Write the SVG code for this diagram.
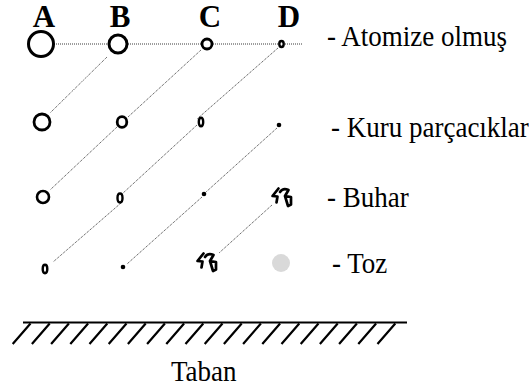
<svg xmlns="http://www.w3.org/2000/svg" width="529" height="390" viewBox="0 0 529 390">
  <defs>
    <style>
      .bg { fill: #ffffff; }
      .ring { fill: none; stroke: #000000; }
      .dot { fill: #000000; }
      .dust { fill: #d9d9d9; }
      .vapor { fill: none; stroke: #000000; stroke-width: 2.7; stroke-linecap: round; stroke-linejoin: round; }
      .path { stroke: #3a3a3a; stroke-width: 1; stroke-dasharray: 1 1; fill: none; }
      .ground { stroke: #000000; stroke-width: 2.2; fill: none; }
    </style>
    <!-- vapor glyph: irregular scribble, centred on its own origin -->
    <g id="vaporShape">
      <path class="vapor" d="M -3.5,-9.5 L -9.5,-2 L -4.5,-1.5 L -5.5,4.5"/>
      <path class="vapor" d="M -2,-6 Q 1,-10.5 6.5,-8 L 3,-2 L 9,-1 L 9,6.5 L 6,8 L 3,-2"/>
    </g>
  </defs>

  <rect class="bg" x="0" y="0" width="529" height="390"/>

  <!-- column headings -->
  <g id="headings" font-family="'Liberation Serif', 'Times New Roman', serif" font-weight="bold" font-size="31" text-anchor="middle" fill="#000000">
    <text x="44" y="27">A</text>
    <text x="120" y="27">B</text>
    <text x="210" y="27">C</text>
    <text x="289" y="27">D</text>
  </g>

  <!-- dotted trajectories -->
  <g id="connectors">
    <line class="path" x1="54" y1="44" x2="108" y2="44"/>
    <line class="path" x1="128" y1="44" x2="201" y2="44"/>
    <line class="path" x1="213" y1="44" x2="278" y2="44"/>
    <line class="path" x1="285" y1="44" x2="303" y2="44"/>

    <line class="path" x1="107" y1="57" x2="50" y2="113"/>
    <line class="path" x1="201" y1="50" x2="128" y2="117"/>
    <line class="path" x1="278" y1="48" x2="197" y2="119"/>

    <line class="path" x1="117" y1="127" x2="50" y2="190"/>
    <line class="path" x1="197" y1="125" x2="122" y2="194"/>
    <line class="path" x1="277" y1="128" x2="206" y2="192"/>

    <line class="path" x1="121" y1="203" x2="53" y2="262"/>
    <line class="path" x1="202" y1="197" x2="127" y2="264"/>
    <line class="path" x1="272" y1="205" x2="219" y2="253"/>
  </g>

  <!-- row 1: atomized droplets -->
  <g id="A1"><circle class="ring" cx="41" cy="44" r="12.5" stroke-width="3"/></g>
  <g id="B1"><circle class="ring" cx="118" cy="44" r="9" stroke-width="3"/></g>
  <g id="C1"><circle class="ring" cx="207" cy="44" r="5" stroke-width="2.8"/></g>
  <g id="D1"><ellipse class="ring" cx="281.5" cy="44" rx="2.2" ry="3" stroke-width="2.4"/></g>

  <!-- row 2 -->
  <g id="A2"><circle class="ring" cx="42" cy="122" r="8" stroke-width="2.8"/></g>
  <g id="B2"><ellipse class="ring" cx="122" cy="122" rx="4.8" ry="5.3" stroke-width="2.8"/></g>
  <g id="C2"><ellipse class="ring" cx="201" cy="122" rx="2.2" ry="4.3" stroke-width="2.4"/></g>
  <g id="D2"><circle class="dot" cx="279" cy="125" r="2.3"/></g>

  <!-- row 3 -->
  <g id="A3"><circle class="ring" cx="43" cy="197" r="6" stroke-width="2.6"/></g>
  <g id="B3"><ellipse class="ring" cx="120" cy="198" rx="2.5" ry="4.5" stroke-width="2.4"/></g>
  <g id="C3"><circle class="dot" cx="204" cy="194" r="2.3"/></g>
  <g id="D3"><use href="#vaporShape" transform="translate(282,198)"/></g>

  <!-- row 4 -->
  <g id="A4"><ellipse class="ring" cx="45" cy="269" rx="2.3" ry="4.2" stroke-width="2.4"/></g>
  <g id="B4"><circle class="dot" cx="123" cy="267" r="2.3"/></g>
  <g id="C4"><use href="#vaporShape" transform="translate(207,263)"/></g>
  <g id="D4"><circle class="dust" cx="281" cy="263" r="9"/></g>

  <!-- legend -->
  <g id="legend" font-family="'Liberation Serif', 'Times New Roman', serif" font-size="27" fill="#000000">
    <text transform="translate(327,46) scale(1,1.1)">- Atomize olmuş</text>
    <text transform="translate(331,137) scale(1,1.1)">- Kuru parçacıklar</text>
    <text transform="translate(327,207) scale(1,1.1)">- Buhar</text>
    <text transform="translate(332,273) scale(1,1.1)">- Toz</text>
  </g>

  <!-- ground -->
  <g id="ground">
    <line class="ground" x1="23" y1="322.5" x2="407" y2="322.5"/>
    <path class="ground" d="
      M12.7,344 l17.8,-20.5 M31.9,344 l17.8,-20.5 M51.1,344 l17.8,-20.5 M70.3,344 l17.8,-20.5
      M89.5,344 l17.8,-20.5 M108.7,344 l17.8,-20.5 M127.9,344 l17.8,-20.5 M147.1,344 l17.8,-20.5
      M166.3,344 l17.8,-20.5 M185.5,344 l17.8,-20.5 M204.7,344 l17.8,-20.5 M223.9,344 l17.8,-20.5
      M243.1,344 l17.8,-20.5 M262.3,344 l17.8,-20.5 M281.5,344 l17.8,-20.5 M300.7,344 l17.8,-20.5
      M319.9,344 l17.8,-20.5 M339.1,344 l17.8,-20.5 M358.3,344 l17.8,-20.5 M377.5,344 l17.8,-20.5"/>
    <text font-family="'Liberation Serif', 'Times New Roman', serif" font-size="27" fill="#000000" transform="translate(171,381) scale(1,1.1)">Taban</text>
  </g>
</svg>
